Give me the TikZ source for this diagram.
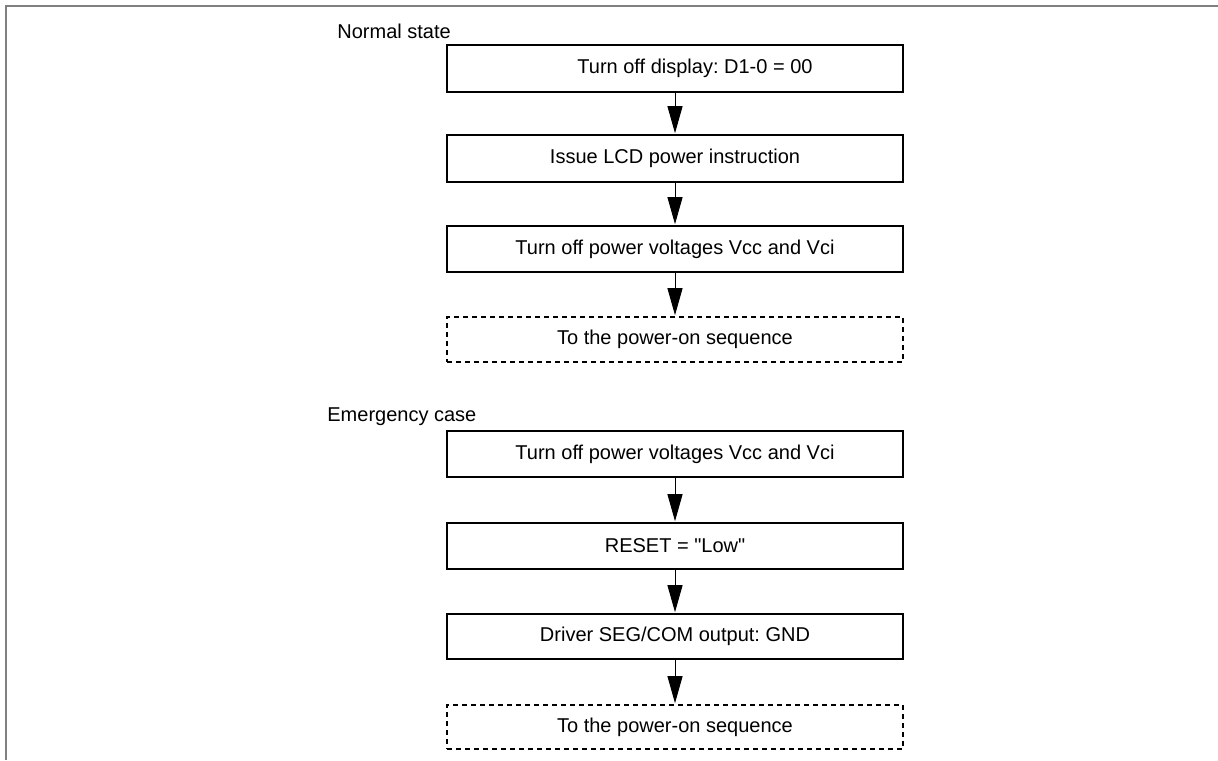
\documentclass[tikz,border=0pt]{standalone}
\usepackage{fontspec}
\setmainfont{Liberation Sans}[Ligatures=TeXOff]
\usetikzlibrary{arrows.meta}
\frenchspacing
\tikzset{
  stepbox/.style={draw=black, line width=0.6pt, minimum width=228pt, minimum height=23.5pt, inner sep=0pt, font=\fontsize{10pt}{12pt}\selectfont},
  dashbox/.style={stepbox, dash pattern=on 2.5pt off 2pt, minimum height=22.5pt},
  flowarrow/.style={draw=black, line width=0.5pt, -{Triangle[width=7.5pt,length=13.5pt]}, shorten >=0.6pt},
  caption/.style={anchor=base west, inner sep=0pt, font=\fontsize{10pt}{12pt}\selectfont},
  frameline/.style={draw=black!50, line width=1pt}
}
\begin{document}
\begin{tikzpicture}[x=0.5pt, y=-0.5pt]
\useasboundingbox (0,0) rectangle (1218,760);
\coordinate (fb) at (6,760);
\coordinate (fc) at (6,6);
\coordinate (fr) at (1218,6);
\draw[frameline] (fb) -- (fc) -- (fr);

\node[caption] (lnormal) at (337,38) {Normal state};
\node[stepbox] (b1) at (675,68.5) {\hspace*{20pt}Turn off display: D1-0 = 00};
\node[stepbox] (b2) at (675,158.5) {Issue LCD power instruction};
\node[stepbox, minimum height=23pt] (b3) at (675,249) {Turn off power voltages Vcc and Vci};
\node[dashbox] (b4) at (675,339.5) {To the power-on sequence};

\node[caption] (lemerg) at (327,421.7) {Emergency case};
\node[stepbox, minimum height=23pt] (b5) at (675,454) {Turn off power voltages Vcc and Vci};
\node[stepbox, minimum height=23pt] (b6) at (675,546) {RESET = "Low"};
\node[stepbox, minimum height=22.5pt] (b7) at (675,636.5) {Driver SEG/COM output: GND};
\node[dashbox, minimum height=22pt] (b8) at (675,727) {To the power-on sequence};

\draw[flowarrow] (b1) -- (b2);
\draw[flowarrow] (b2) -- (b3);
\draw[flowarrow] (b3) -- (b4);
\draw[flowarrow] (b5) -- (b6);
\draw[flowarrow] (b6) -- (b7);
\draw[flowarrow] (b7) -- (b8);
\end{tikzpicture}
\end{document}
